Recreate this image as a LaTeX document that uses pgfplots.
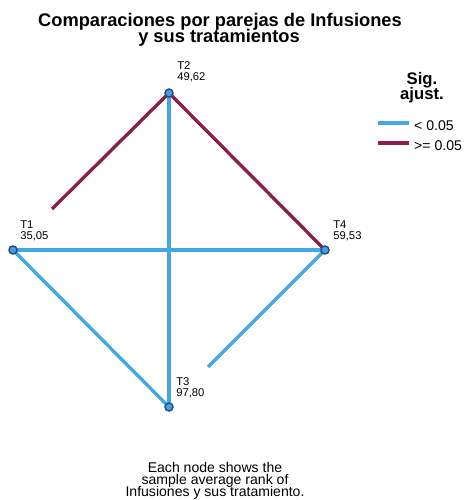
\documentclass[border=0pt]{standalone}
\usepackage{pgfplots}
\pgfplotsset{compat=1.18}
\usepackage{fontspec}
\setmainfont{Liberation Sans}

\definecolor{sigblue}{HTML}{41A8E1}
\definecolor{sigred}{HTML}{8C1D4C}
\definecolor{nodefill}{HTML}{4B9CDF}
\definecolor{nodeedge}{HTML}{1E4E86}

\begin{document}
\begin{tikzpicture}
\begin{axis}[
    scale only axis,
    width=9.32cm, height=10cm,
    xmin=0, xmax=466, ymin=0, ymax=500,
    y dir=reverse,
    hide axis,
    clip=false,
    every node/.append style={inner sep=0pt},
]
    % edges (pixel coords of the reference)
    \addplot[sigred, line width=1.9pt] coordinates {(169,93) (52,209)};
    \addplot[sigred, line width=1.9pt] coordinates {(169,93) (325,250)};
    \addplot[sigblue, line width=1.9pt] coordinates {(169,93) (169,407)};
    \addplot[sigblue, line width=1.9pt] coordinates {(13,250) (325,250)};
    \addplot[sigblue, line width=1.9pt] coordinates {(13,250) (169,407)};
    \addplot[sigblue, line width=1.9pt] coordinates {(325,250) (208,367)};

    % nodes
    \addplot[only marks, mark=*, mark size=2.3pt,
        mark options={fill=nodefill, draw=nodeedge, line width=0.8pt}]
        coordinates {(169,93) (13,250) (325,250) (169,407)};

    % node labels
    \begin{scope}[every node/.style={anchor=base west, inner sep=0pt,
        font=\fontsize{6.4}{7}\selectfont}]
    \node at (axis cs:177,70) {T2};  \node at (axis cs:177,81) {49,62};
    \node at (axis cs:20,228) {T1};  \node at (axis cs:20,239) {35,05};
    \node at (axis cs:333,228) {T4}; \node at (axis cs:333,239) {59,53};
    \node at (axis cs:176,385) {T3}; \node at (axis cs:176,396) {97,80};
    \end{scope}

    % title
    \begin{scope}[every node/.style={anchor=base, inner sep=0pt,
        font=\fontsize{10.4}{11}\selectfont\bfseries}]
    \node at (axis cs:220,27) {Comparaciones por parejas de Infusiones};
    \node at (axis cs:219,43) {y sus tratamientos};
    \end{scope}

    % legend
    \begin{scope}[every node/.style={anchor=base, inner sep=0pt,
        font=\fontsize{9.5}{10}\selectfont\bfseries}]
    \node at (axis cs:422,85) {Sig.};
    \node at (axis cs:422,100) {ajust.};
    \end{scope}
    \addplot[sigblue, line width=1.9pt] coordinates {(378,123) (409,123)};
    \addplot[sigred, line width=1.9pt] coordinates {(378,143) (409,143)};
    \node[anchor=base west, font=\fontsize{8}{9}\selectfont]
        at (axis cs:408,130) {< 0.05};
    \node[anchor=base west, font=\fontsize{8}{9}\selectfont]
        at (axis cs:408,150) {>= 0.05};

    % footnote
    \begin{scope}[every node/.style={anchor=base, inner sep=0pt,
        font=\fontsize{8}{8}\selectfont}]
    \node at (axis cs:215,472) {Each node shows the};
    \node at (axis cs:215,484) {sample average rank of};
    \node at (axis cs:215,496) {Infusiones y sus tratamiento.};
    \end{scope}
\end{axis}
\pgfresetboundingbox
\path (0,0) rectangle (9.32cm,10cm);
\end{tikzpicture}
\end{document}
